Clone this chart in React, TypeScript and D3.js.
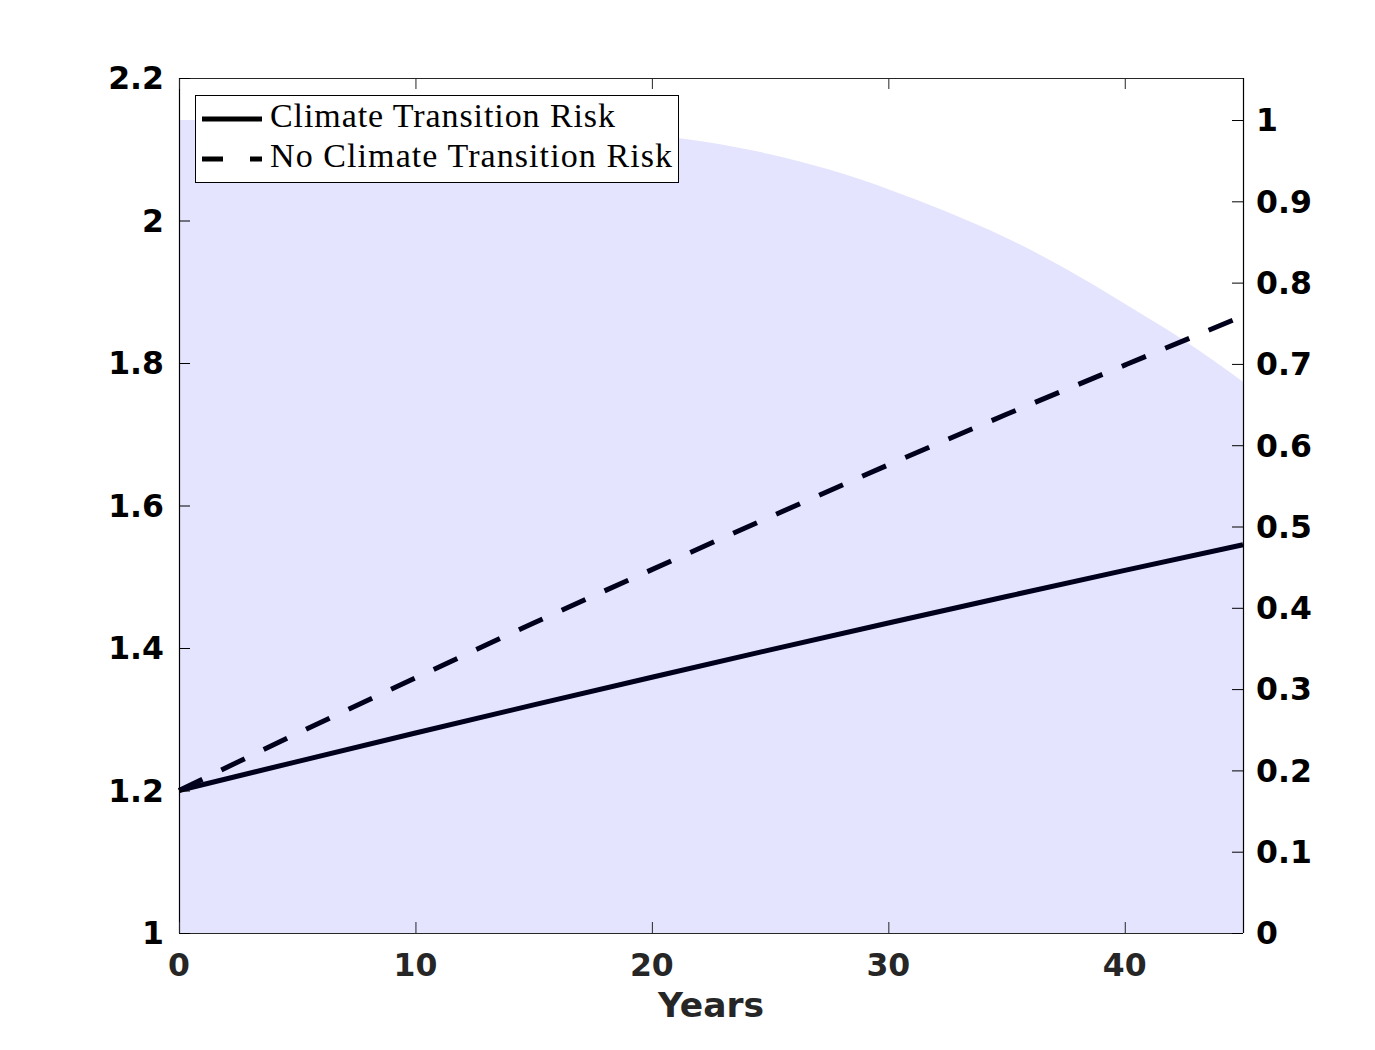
import React from "react";
import * as d3 from "d3";

// ---- data ----
const years = [0, 5, 10, 15, 20, 25, 30, 35, 40, 45];
const climateTransitionRisk = [1.2, 1.2406, 1.2807, 1.3201, 1.359, 1.3974, 1.4351, 1.4723, 1.509, 1.545];
const noClimateTransitionRisk = [1.2, 1.28, 1.358, 1.435, 1.51, 1.584, 1.657, 1.728, 1.797, 1.866];
const shadeYears = [0, 5, 10, 15, 20, 22.5, 25, 27.5, 30, 32.5, 35, 37.5, 40, 42.5, 45];
const shadeProbability = [1.0, 0.9995, 0.998, 0.993, 0.982, 0.972, 0.958, 0.939, 0.915, 0.887, 0.855, 0.817, 0.774, 0.729, 0.678];

const xTicks = [0, 10, 20, 30, 40];
const leftTicks = [1, 1.2, 1.4, 1.6, 1.8, 2, 2.2];
const rightTicks = [0, 0.1, 0.2, 0.3, 0.4, 0.5, 0.6, 0.7, 0.8, 0.9, 1];
const legendLabels = ["Climate Transition Risk", "No Climate Transition Risk"];

const W = 1375;
const H = 1050;
const L = 179, R = 1243, T = 78, B = 933;

export default function App() {
  const x = d3.scaleLinear().domain([0, 45]).range([L, R]);
  const yL = d3.scaleLinear().domain([1, 2.2]).range([B, T]);
  const yR = d3.scaleLinear().domain([0, 1.0517]).range([B, T]);

  const shadeData = shadeYears.map((t, i) => ({ t, v: shadeProbability[i] }));
  const area = d3
    .area<{ t: number; v: number }>()
    .x((d) => x(d.t))
    .y0(yR(0))
    .y1((d) => yR(d.v))
    .curve(d3.curveMonotoneX);

  const line = d3
    .line<{ t: number; v: number }>()
    .x((d) => x(d.t))
    .y((d) => yL(d.v))
    .curve(d3.curveMonotoneX);

  const solid = years.map((t, i) => ({ t, v: climateTransitionRisk[i] }));
  const dashed = years.map((t, i) => ({ t, v: noClimateTransitionRisk[i] }));

  const lineColor = "#00001c";
  const axisGrey = "#262626";
  const tickFont = "'DejaVu Sans', sans-serif";
  const serif = "'Liberation Serif', 'Times New Roman', serif";
  const fmt = (v: number) => String(Math.round(v * 10) / 10);

  return (
    <svg
      width={W}
      height={H}
      style={{ position: "absolute", left: 0, top: 0, background: "#fff" }}
      xmlns="http://www.w3.org/2000/svg"
    >
      <rect x={0} y={0} width={W} height={H} fill="#fff" />
      <path d={area(shadeData) || ""} fill="#e4e4fe" />
      <path d={line(solid) || ""} fill="none" stroke={lineColor} strokeWidth={5} />
      <path
        d={line(dashed) || ""}
        fill="none"
        stroke={lineColor}
        strokeWidth={5}
        strokeDasharray="26 21"
      />

      {/* box */}
      <line x1={L} x2={R} y1={B + 0.5} y2={B + 0.5} stroke={axisGrey} strokeWidth={1.2} />
      <line x1={L} x2={R} y1={T + 0.5} y2={T + 0.5} stroke={axisGrey} strokeWidth={1.2} />
      <line x1={L + 0.5} x2={L + 0.5} y1={T} y2={B} stroke="#000" strokeWidth={1.2} />
      <line x1={R + 0.5} x2={R + 0.5} y1={T} y2={B} stroke="#000" strokeWidth={1.2} />

      {/* x ticks */}
      {xTicks.map((t) => (
        <g key={"x" + t}>
          <line x1={x(t) + 0.5} x2={x(t) + 0.5} y1={B} y2={B - 11} stroke={axisGrey} />
          <line x1={x(t) + 0.5} x2={x(t) + 0.5} y1={T} y2={T + 11} stroke={axisGrey} />
          <text
            x={x(t)}
            y={976}
            textAnchor="middle"
            fontFamily={tickFont}
            fontWeight="bold"
            fontSize={31.5}
            fill={axisGrey}
          >
            {fmt(t)}
          </text>
        </g>
      ))}
      <text
        x={(L + R) / 2}
        y={1017}
        textAnchor="middle"
        fontFamily={tickFont}
        fontWeight="bold"
        fontSize={34.5}
        fill={axisGrey}
      >
        Years
      </text>

      {/* left ticks */}
      {leftTicks.map((v) => (
        <g key={"l" + v}>
          <line x1={L} x2={L + 11} y1={yL(v) + 0.5} y2={yL(v) + 0.5} stroke="#000" />
          <text
            x={164}
            y={yL(v)}
            dy="0.36em"
            textAnchor="end"
            fontFamily={tickFont}
            fontWeight="bold"
            fontSize={31.5}
            fill="#000"
          >
            {fmt(v)}
          </text>
        </g>
      ))}

      {/* right ticks */}
      {rightTicks.map((v) => (
        <g key={"r" + v}>
          <line x1={R - 11} x2={R} y1={yR(v) + 0.5} y2={yR(v) + 0.5} stroke="#000" />
          <text
            x={1256}
            y={yR(v)}
            dy="0.36em"
            textAnchor="start"
            fontFamily={tickFont}
            fontWeight="bold"
            fontSize={31.5}
            fill="#000"
          >
            {fmt(v)}
          </text>
        </g>
      ))}

      {/* legend */}
      <g>
        <rect x={195.5} y={95.5} width={483} height={87} fill="#fff" stroke="#000" strokeWidth={1} />
        <line x1={202} x2={262} y1={119} y2={119} stroke="#000" strokeWidth={5} />
        <line x1={202} x2={262} y1={159} y2={159} stroke="#000" strokeWidth={5} strokeDasharray="21 27 12" />
        <text x={270} y={127} fontFamily={serif} fontSize={34} textLength={345} fill="#000">
          {legendLabels[0]}
        </text>
        <text x={270} y={167} fontFamily={serif} fontSize={34} textLength={402} fill="#000">
          {legendLabels[1]}
        </text>
      </g>
    </svg>
  );
}
